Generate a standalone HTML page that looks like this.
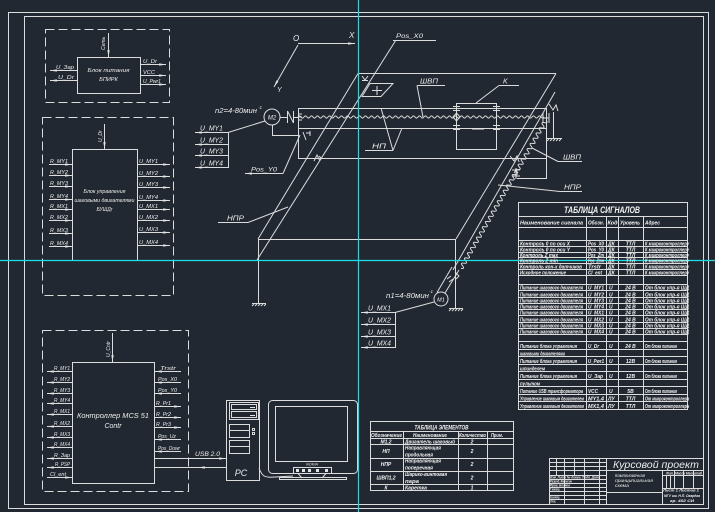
<!DOCTYPE html>
<html><head><meta charset="utf-8"><style>
html,body{margin:0;padding:0;background:#222831;}
svg{display:block}
text{font-family:"Liberation Sans","DejaVu Sans",sans-serif;font-style:italic;fill:#ececec;}
.tb text{font-weight:bold;fill:#f2f2f2;}
</style></head><body>
<svg width="715" height="512" viewBox="0 0 715 512" xmlns="http://www.w3.org/2000/svg">
<defs>
<marker id="a" viewBox="0 0 10 4" refX="10" refY="2" markerWidth="7" markerHeight="2.4" preserveAspectRatio="none" markerUnits="userSpaceOnUse" orient="auto"><path d="M0,0L10,2L0,4z" fill="#e4e4e4"/></marker>
</defs>
<rect width="715" height="512" fill="#222831"/>
<g fill="none" stroke="#dcdcdc" stroke-width="1">
<rect x="8.5" y="12.5" width="700" height="496"/>
<rect x="24.5" y="16.5" width="679" height="488"/>

<rect x="45.5" y="29.5" width="124" height="73" stroke-dasharray="9 4"/>
<rect x="77.5" y="57.5" width="63" height="36"/>
<path d="M108.5,33V57" marker-end="url(#a)"/>
<path d="M77,70.5H50" marker-end="url(#a)"/>
<path d="M77,80.5H50" marker-end="url(#a)"/>
<path d="M140,64.5H166" marker-end="url(#a)"/>
<path d="M140,75.5H166" marker-end="url(#a)"/>
<path d="M140,84.5H166" marker-end="url(#a)"/>

<rect x="42.5" y="117.5" width="131" height="178" stroke-dasharray="9 4"/>
<rect x="72.5" y="149.5" width="65" height="111"/>
<path d="M104.5,124V149" marker-end="url(#a)"/>
<path d="M49,164.5H72" marker-end="url(#a)"/>
<path d="M49,175.5H72" marker-end="url(#a)"/>
<path d="M49,186.5H72" marker-end="url(#a)"/>
<path d="M49,199.5H72" marker-end="url(#a)"/>
<path d="M49,209.5H72" marker-end="url(#a)"/>
<path d="M49,220.5H72" marker-end="url(#a)"/>
<path d="M49,233.5H72" marker-end="url(#a)"/>
<path d="M49,246.5H72" marker-end="url(#a)"/>
<path d="M137,164.5H170" marker-end="url(#a)"/>
<path d="M137,176.5H170" marker-end="url(#a)"/>
<path d="M137,187.5H170" marker-end="url(#a)"/>
<path d="M137,200.5H170" marker-end="url(#a)"/>
<path d="M137,209.5H170" marker-end="url(#a)"/>
<path d="M137,220.5H170" marker-end="url(#a)"/>
<path d="M137,232.5H170" marker-end="url(#a)"/>
<path d="M137,245.5H170" marker-end="url(#a)"/>

<rect x="42.5" y="330.5" width="146" height="161" stroke-dasharray="9 4"/>
<rect x="72.5" y="362.5" width="82" height="121"/>
<path d="M112.5,333V362" marker-end="url(#a)"/>
<path d="M72,371.5H47" marker-end="url(#a)"/>
<path d="M72,382.5H47" marker-end="url(#a)"/>
<path d="M72,393.5H47" marker-end="url(#a)"/>
<path d="M72,403.5H47" marker-end="url(#a)"/>
<path d="M72,414.5H47" marker-end="url(#a)"/>
<path d="M72,426.5H47" marker-end="url(#a)"/>
<path d="M72,437.5H47" marker-end="url(#a)"/>
<path d="M72,447.5H47" marker-end="url(#a)"/>
<path d="M72,458.5H47" marker-end="url(#a)"/>
<path d="M72,467.5H47" marker-end="url(#a)"/>
<path d="M47,477.5H72" marker-end="url(#a)"/>
<path d="M181,371.5H155" marker-end="url(#a)"/>
<path d="M181,382.5H155" marker-end="url(#a)"/>
<path d="M181,393.5H155" marker-end="url(#a)"/>
<path d="M154,406.5H181" marker-end="url(#a)"/>
<path d="M154,417.5H181" marker-end="url(#a)"/>
<path d="M154,427.5H181" marker-end="url(#a)"/>
<path d="M181,439.5H155" marker-end="url(#a)"/>
<path d="M181,451.5H155" marker-end="url(#a)"/>
<path d="M154,458.5H226" marker-end="url(#a)"/>
<path d="M154,467.5H227"/>
<path d="M206,467.5H198" marker-end="url(#a)"/>

<rect x="226.5" y="400.5" width="33" height="80"/>
<rect x="229.5" y="402.5" width="29" height="17"/>
<rect x="231.5" y="404.5" width="25" height="5"/>
<rect x="231.5" y="411.5" width="25" height="6"/>
<rect x="229.5" y="424.5" width="20" height="13"/>
<path d="M229,430.5H249"/>
<rect x="229.5" y="440.5" width="20" height="13"/>
<path d="M229,446.5H249"/>
<rect x="252.5" y="428.5" width="2" height="2"/>
<rect x="252.5" y="432.5" width="2" height="2"/>
<rect x="268.5" y="400.5" width="89" height="73" rx="4"/>
<rect x="275.5" y="406.5" width="72" height="55"/>
<rect x="293.5" y="467.5" width="38" height="6"/>
<path d="M298,473.5L302,478M326,473.5L322,478"/>
<rect x="279.5" y="477.5" width="67" height="2"/>
<path d="M259,468C262,476 264,478 275,477L293,476"/>

<rect x="370.5" y="421.5" width="143" height="69"/>
<path d="M370,431.5H513M370,438.5H513M370,444.5H513M370,458.5H513M370,471.5H513M370,484.5H513"/>
<path d="M403.5,431V490M458.5,431V490M487.5,431V490"/>

<rect x="518.5" y="202.5" width="169" height="207"/>
<path d="M518,216.5H687M518,227.5H687M518,240.5H687M518,246.5H687M518,252.5H687M518,257.5H687M518,263.5H687M518,269.5H687M518,275.5H687M518,284.5H687M518,290.5H687M518,297.5H687M518,303.5H687M518,309.5H687M518,315.5H687M518,322.5H687M518,328.5H687M518,334.5H687M518,341.5H687M518,349.5H687M518,356.5H687M518,364.5H687M518,371.5H687M518,379.5H687M518,386.5H687M518,394.5H687M518,401.5H687"/>
<path d="M586.5,216V409M606.5,216V409M618.5,216V409M643.5,216V409"/>

<path d="M549.5,458.5H704M549.5,458V504M556.5,458V475M564.5,458V504M574.5,458V475M584.5,458V504M599.5,458V504M606.5,458V504"/>
<path d="M549,462.5H606M549,466.5H606M549,470.5H606M549,475.5H606M549,479.5H606M549,483.5H606M549,487.5H606M549,491.5H606M549,495.5H606M549,499.5H606"/>
<path d="M606,470.5H704M662.5,470V504M662,475.5H704M662,488.5H704M606,492.5H662M666.5,475V488M670.5,475V488M674.5,470V488M683.5,470V488M693.5,470V488"/>

<path d="M298,43.5H355" marker-end="url(#a)"/>
<path d="M298,45L274,87" marker-end="url(#a)"/>

<path d="M358,73.5H556"/>
<path d="M358,73.5L258,239"/>
<path d="M556,73.5L456,239"/>
<path d="M396,40L257,260"/>
<path d="M555,92L453,270"/>
<path d="M258,239.5H455.5"/>
<path d="M258.5,239V303M455.5,239V308"/>
<path d="M252,303.5H266M254,304L252,306M257,304L255,306M260,304L258,306M263,304L261,306M266,304L264,306"/>
<path d="M449,308.5H463M451,309L449,311M454,309L452,311M457,309L455,311M460,309L458,311M463,309L461,311"/>
<path d="M370,83.5H393L381,96.5H362Z"/>
<path d="M372,90.5H382M377,86V95"/>
<path d="M362,80.5H368M362,76L365,80L368,76"/>
<path d="M298.5,108V159M298,108.5H547M298,128.5H547M298,158.5H547M546.5,108V178M517,178.5H547"/>
<path d="M298,117 q1.5,-2.2 3,0 t3,0 t3,0 t3,0 t3,0 t3,0 t3,0 t3,0 t3,0 t3,0 t3,0 t3,0 t3,0 t3,0 t3,0 t3,0 t3,0 t3,0 t3,0 t3,0 t3,0 t3,0 t3,0 t3,0 t3,0 t3,0 t3,0 t3,0 t3,0 t3,0 t3,0 t3,0 t3,0 t3,0 t3,0 t3,0 t3,0 t3,0 t3,0 t3,0 t3,0 t3,0 t3,0 t3,0 t3,0 t3,0 t3,0 t3,0 t3,0 t3,0 t3,0 t3,0 t3,0 t3,0 t3,0 t3,0 t3,0 t3,0 t3,0 t3,0 t3,0 t3,0 t3,0 t3,0 t3,0 t3,0 t3,0 t3,0 t3,0 t3,0 t3,0 t3,0 t3,0 t3,0 t3,0 t3,0 t3,0 t3,0 t3,0 t3,0 t3,0 t3,0"/>
<path d="M456.5,103V149M496.5,103V149M456,103.5H497M456,149.5H497"/>
<path d="M453,106.5H460M453,110.5H460M493,106.5H500M493,110.5H500M453,125.5H460M453,129.5H460M493,125.5H500M493,129.5H500"/>
<path d="M453,117L456.5,113L460,117L456.5,121Z"/>
<path d="M543,113V123M549,113V123M543,118H549"/>
<path transform="translate(546,120) rotate(119.8)" d="M0,0 q1.5,-4 3,0 t3,0 t3,0 t3,0 t3,0 t3,0 t3,0 t3,0 t3,0 t3,0 t3,0 t3,0 t3,0 t3,0 t3,0 t3,0 t3,0 t3,0 t3,0 t3,0 t3,0 t3,0 t3,0 t3,0 t3,0 t3,0 t3,0 t3,0 t3,0 t3,0 t3,0 t3,0 t3,0 t3,0 t3,0 t3,0 t3,0 t3,0 t3,0 t3,0 t3,0 t3,0 t3,0 t3,0 t3,0 t3,0 t3,0 t3,0 t3,0 t3,0 t3,0 t3,0 t3,0 t3,0 t3,0 t3,0 t3,0"/>
<path d="M553.5,112V138M547,138.5H562M549,139L547,141M552,139L550,141M555,139L553,141M558,139L556,141M561,139L559,141"/>
<path d="M549,104L553,110L556,105L558,111"/>
<path d="M510,156L514,161L517,156L519,162M512,170H520M512,176H520M516,168V179M514,173L516,170L518,173"/>
<circle cx="272" cy="117" r="8"/>
<path d="M280,117.5H287M287.5,111V123M287.5,111L293.5,123M293.5,111V123M293,117.5H298M299,114H302M299,117H302M299,120H302"/>
<path d="M265,121L228,132.5"/>
<path d="M228,132.5H195" marker-end="url(#a)"/>
<path d="M228,144.5H195" marker-end="url(#a)"/>
<path d="M228,155.5H195" marker-end="url(#a)"/>
<path d="M228,167.5H195" marker-end="url(#a)"/>
<path d="M228.5,132V168"/>
<path d="M272.5,125V135.5H298"/>
<path d="M303,132L306,140M306,133H310M310,131V136"/>
<path d="M283,173.5H245" marker-end="url(#a)"/>
<path d="M283,173.5L300,135"/>
<path d="M314,161L317,155L320,161M319,156L322,159"/>
<path d="M393,40.5H436"/>
<path d="M417,85.5H445M417,85.5L423,117"/>
<path d="M499,85.5H519M499,85.5L476,103"/>
<path d="M365,150.5H393M393,150.5L381,108M393,150.5L402,128"/>
<path d="M218,222.5H248L288,207"/>
<path d="M558,161.5H582M558,161.5L532,148"/>
<path d="M560,191.5H582M560,191.5L498,185"/>
<circle cx="441" cy="299" r="7"/>
<path d="M437,292.5L452,267M445,293L459,270M447,279L451,276M449,282L453,279M455,272L459,276L456,279"/>
<path d="M434,302L395,312.5"/>
<path d="M395,312.5H361" marker-end="url(#a)"/>
<path d="M395,324.5H361" marker-end="url(#a)"/>
<path d="M395,336.5H361" marker-end="url(#a)"/>
<path d="M395,347.5H361" marker-end="url(#a)"/>
<path d="M395.5,312V348"/>
</g>

<path d="M358.5,0V512M0,260.5H715" stroke="#19e0e6" stroke-width="1.2" fill="none"/>

<g fill="#e4e4e4">
<rect x="296" y="469" width="3" height="3"/><rect x="302" y="469" width="3" height="3"/><rect x="308" y="469" width="3" height="3"/><rect x="316" y="469" width="3" height="3"/><rect x="325" y="469" width="3" height="3"/>
<rect x="250" y="407" width="5" height="1"/><rect x="250" y="415" width="5" height="1"/>
<rect x="472" y="128" width="12" height="1.5"/>
</g>

<g>
<text x="105" y="50" font-size="5" transform="rotate(-90 105 50)">Сеть</text>
<text x="56" y="69" font-size="5" textLength="18" lengthAdjust="spacingAndGlyphs">U_Зар</text>
<text x="58" y="79" font-size="5" textLength="16" lengthAdjust="spacingAndGlyphs">U_Dr</text>
<text x="143" y="63" font-size="5" textLength="14" lengthAdjust="spacingAndGlyphs">U_Dr</text>
<text x="143" y="74" font-size="5" textLength="12" lengthAdjust="spacingAndGlyphs">VCC</text>
<text x="143" y="83" font-size="5" textLength="18" lengthAdjust="spacingAndGlyphs">U_Pwr1</text>
<text x="108.5" y="72" font-size="5.5" text-anchor="middle" textLength="42" lengthAdjust="spacingAndGlyphs">Блок питания</text>
<text x="108.5" y="81" font-size="5.5" text-anchor="middle">БПИРК</text>

<text x="102" y="142" font-size="5" transform="rotate(-90 102 142)">U_Dr</text>
<text x="50" y="163" font-size="5" textLength="18" lengthAdjust="spacingAndGlyphs">R_MY1</text>
<text x="50" y="174" font-size="5" textLength="18" lengthAdjust="spacingAndGlyphs">R_MY2</text>
<text x="50" y="185" font-size="5" textLength="18" lengthAdjust="spacingAndGlyphs">R_MY3</text>
<text x="50" y="198" font-size="5" textLength="18" lengthAdjust="spacingAndGlyphs">R_MY4</text>
<text x="50" y="208" font-size="5" textLength="18" lengthAdjust="spacingAndGlyphs">R_MX1</text>
<text x="50" y="219" font-size="5" textLength="18" lengthAdjust="spacingAndGlyphs">R_MX2</text>
<text x="50" y="232" font-size="5" textLength="18" lengthAdjust="spacingAndGlyphs">R_MX3</text>
<text x="50" y="245" font-size="5" textLength="18" lengthAdjust="spacingAndGlyphs">R_MX4</text>
<text x="139" y="163" font-size="5" textLength="19" lengthAdjust="spacingAndGlyphs">U_MY1</text>
<text x="139" y="175" font-size="5" textLength="19" lengthAdjust="spacingAndGlyphs">U_MY2</text>
<text x="139" y="186" font-size="5" textLength="19" lengthAdjust="spacingAndGlyphs">U_MY3</text>
<text x="139" y="199" font-size="5" textLength="19" lengthAdjust="spacingAndGlyphs">U_MY4</text>
<text x="139" y="208" font-size="5" textLength="19" lengthAdjust="spacingAndGlyphs">U_MX1</text>
<text x="139" y="219" font-size="5" textLength="19" lengthAdjust="spacingAndGlyphs">U_MX2</text>
<text x="139" y="231" font-size="5" textLength="19" lengthAdjust="spacingAndGlyphs">U_MX3</text>
<text x="139" y="244" font-size="5" textLength="19" lengthAdjust="spacingAndGlyphs">U_MX4</text>
<text x="104.5" y="193" font-size="5" text-anchor="middle" textLength="42" lengthAdjust="spacingAndGlyphs">Блок управления</text>
<text x="104.5" y="202" font-size="5" text-anchor="middle" textLength="60" lengthAdjust="spacingAndGlyphs">шаговыми двигателями</text>
<text x="104.5" y="211" font-size="5" text-anchor="middle">БУШДr</text>

<text x="110" y="357" font-size="5" transform="rotate(-90 110 357)">U_Cntr</text>
<text x="70" y="370" font-size="5" text-anchor="end" textLength="16" lengthAdjust="spacingAndGlyphs">R_MY1</text>
<text x="70" y="381" font-size="5" text-anchor="end" textLength="16" lengthAdjust="spacingAndGlyphs">R_MY2</text>
<text x="70" y="392" font-size="5" text-anchor="end" textLength="16" lengthAdjust="spacingAndGlyphs">R_MY3</text>
<text x="70" y="402" font-size="5" text-anchor="end" textLength="16" lengthAdjust="spacingAndGlyphs">R_MY4</text>
<text x="70" y="413" font-size="5" text-anchor="end" textLength="16" lengthAdjust="spacingAndGlyphs">R_MX1</text>
<text x="70" y="425" font-size="5" text-anchor="end" textLength="16" lengthAdjust="spacingAndGlyphs">R_MX2</text>
<text x="70" y="436" font-size="5" text-anchor="end" textLength="16" lengthAdjust="spacingAndGlyphs">R_MX3</text>
<text x="70" y="446" font-size="5" text-anchor="end" textLength="16" lengthAdjust="spacingAndGlyphs">R_MX4</text>
<text x="70" y="457" font-size="5" text-anchor="end" textLength="16" lengthAdjust="spacingAndGlyphs">R_Зар</text>
<text x="70" y="466" font-size="5" text-anchor="end" textLength="15" lengthAdjust="spacingAndGlyphs">R_PSP</text>
<text x="66" y="476" font-size="5" text-anchor="end" textLength="16" lengthAdjust="spacingAndGlyphs">Cl_ent</text>
<text x="160" y="370" font-size="5" textLength="16" lengthAdjust="spacingAndGlyphs">Trstr</text>
<text x="158" y="381" font-size="5" textLength="19" lengthAdjust="spacingAndGlyphs">Pos_X0</text>
<text x="158" y="392" font-size="5" textLength="19" lengthAdjust="spacingAndGlyphs">Pos_Y0</text>
<text x="156" y="405" font-size="5" textLength="15" lengthAdjust="spacingAndGlyphs">R_Pr1</text>
<text x="156" y="416" font-size="5" textLength="15" lengthAdjust="spacingAndGlyphs">R_Pr2</text>
<text x="156" y="426" font-size="5" textLength="15" lengthAdjust="spacingAndGlyphs">R_Pr3</text>
<text x="158" y="438" font-size="5" textLength="18" lengthAdjust="spacingAndGlyphs">Pos_Uz</text>
<text x="158" y="450" font-size="5" textLength="22" lengthAdjust="spacingAndGlyphs">Pos_Dowr</text>
<text x="195" y="456" font-size="6" textLength="25" lengthAdjust="spacingAndGlyphs">USB 2.0</text>
<text x="113" y="418" font-size="7" text-anchor="middle" textLength="72" lengthAdjust="spacingAndGlyphs">Контроллер MCS 51</text>
<text x="113" y="428" font-size="7" text-anchor="middle">Contr</text>

<text x="241" y="476" font-size="9" text-anchor="middle">PC</text>
<text x="312" y="465.5" font-size="4" text-anchor="middle" textLength="12" lengthAdjust="spacingAndGlyphs">NOKIA</text>

<text x="293" y="41" font-size="8">O</text>
<text x="349" y="38" font-size="8">X</text>
<text x="277" y="92" font-size="7">Y</text>
<text x="396" y="38" font-size="6.5" textLength="27" lengthAdjust="spacingAndGlyphs">Pos_X0</text>
<text x="215" y="113" font-size="7" textLength="42" lengthAdjust="spacingAndGlyphs">n2=4-80мин</text>
<text x="258" y="109" font-size="4.5">-1</text>
<text x="272" y="119.5" font-size="6" text-anchor="middle">M2</text>
<text x="200" y="130.5" font-size="7" textLength="23" lengthAdjust="spacingAndGlyphs">U_MY1</text>
<text x="200" y="142.5" font-size="7" textLength="23" lengthAdjust="spacingAndGlyphs">U_MY2</text>
<text x="200" y="153.5" font-size="7" textLength="23" lengthAdjust="spacingAndGlyphs">U_MY3</text>
<text x="200" y="165.5" font-size="7" textLength="23" lengthAdjust="spacingAndGlyphs">U_MY4</text>
<text x="251" y="171.5" font-size="6.5" textLength="26" lengthAdjust="spacingAndGlyphs">Pos_Y0</text>
<text x="227" y="220.5" font-size="7" textLength="17" lengthAdjust="spacingAndGlyphs">НПР</text>
<text x="372" y="148.5" font-size="7" textLength="14" lengthAdjust="spacingAndGlyphs">НП</text>
<text x="420" y="83.5" font-size="7" textLength="18" lengthAdjust="spacingAndGlyphs">ШВП</text>
<text x="503" y="83.5" font-size="7">K</text>
<text x="563" y="159.5" font-size="7" textLength="18" lengthAdjust="spacingAndGlyphs">ШВП</text>
<text x="564" y="189.5" font-size="7" textLength="17" lengthAdjust="spacingAndGlyphs">НПР</text>
<text x="386" y="298" font-size="7" textLength="43" lengthAdjust="spacingAndGlyphs">n1=4-80мин</text>
<text x="429" y="293" font-size="4.5">-1</text>
<text x="441" y="301.5" font-size="5.5" text-anchor="middle">M1</text>
<text x="368" y="310.5" font-size="7" textLength="23" lengthAdjust="spacingAndGlyphs">U_MX1</text>
<text x="368" y="322.5" font-size="7" textLength="23" lengthAdjust="spacingAndGlyphs">U_MX2</text>
<text x="368" y="334.5" font-size="7" textLength="23" lengthAdjust="spacingAndGlyphs">U_MX3</text>
<text x="368" y="345.5" font-size="7" textLength="23" lengthAdjust="spacingAndGlyphs">U_MX4</text>

<g class="tb">
<text x="441.5" y="429.5" font-size="6" text-anchor="middle" textLength="54" lengthAdjust="spacingAndGlyphs">ТАБЛИЦА ЭЛЕМЕНТОВ</text>
<g font-size="5">
<text x="371" y="437" textLength="31" lengthAdjust="spacingAndGlyphs">Обозначение</text>
<text x="430" y="437" text-anchor="middle" textLength="34" lengthAdjust="spacingAndGlyphs">Наименование</text>
<text x="459" y="437" textLength="27" lengthAdjust="spacingAndGlyphs">Количество</text>
<text x="491" y="437" textLength="12" lengthAdjust="spacingAndGlyphs">Прим.</text>
<text x="386" y="443.5" text-anchor="middle">M1,2</text>
<text x="405" y="443.5" textLength="50" lengthAdjust="spacingAndGlyphs">Двигатель шаговый</text>
<text x="472" y="443.5" text-anchor="middle">2</text>
<text x="386" y="453" text-anchor="middle">НП</text>
<text x="405" y="449.5" textLength="36" lengthAdjust="spacingAndGlyphs">Направляющая</text>
<text x="405" y="456.5" textLength="28" lengthAdjust="spacingAndGlyphs">продольная</text>
<text x="472" y="453" text-anchor="middle">2</text>
<text x="386" y="466" text-anchor="middle">НПР</text>
<text x="405" y="462.5" textLength="36" lengthAdjust="spacingAndGlyphs">Направляющая</text>
<text x="405" y="469.5" textLength="28" lengthAdjust="spacingAndGlyphs">поперечная</text>
<text x="472" y="466" text-anchor="middle">2</text>
<text x="386" y="479.5" text-anchor="middle">ШВП1,2</text>
<text x="405" y="476" textLength="42" lengthAdjust="spacingAndGlyphs">Шарико-винтовая</text>
<text x="405" y="483" textLength="14" lengthAdjust="spacingAndGlyphs">пара</text>
<text x="472" y="479.5" text-anchor="middle">2</text>
<text x="386" y="489.5" text-anchor="middle">К</text>
<text x="405" y="489.5" textLength="22" lengthAdjust="spacingAndGlyphs">Каретка</text>
<text x="472" y="489.5" text-anchor="middle">1</text>
</g>

<text x="602" y="213" font-size="9" text-anchor="middle" textLength="76" lengthAdjust="spacingAndGlyphs">ТАБЛИЦА СИГНАЛОВ</text>
<g font-size="5">
<text x="520" y="224.5" textLength="63" lengthAdjust="spacingAndGlyphs">Наименование сигнала</text>
<text x="588" y="224.5" textLength="16" lengthAdjust="spacingAndGlyphs">Обозн.</text>
<text x="607.5" y="224.5" textLength="10" lengthAdjust="spacingAndGlyphs">Код</text>
<text x="620" y="224.5" textLength="20" lengthAdjust="spacingAndGlyphs">Уровень</text>
<text x="645" y="224.5" textLength="15" lengthAdjust="spacingAndGlyphs">Адрес</text>

<text x="520" y="245.5" textLength="50" lengthAdjust="spacingAndGlyphs">Контроль 0 по оси X</text>
<text x="520" y="251.5" textLength="50" lengthAdjust="spacingAndGlyphs">Контроль 0 по оси Y</text>
<text x="520" y="257" textLength="38" lengthAdjust="spacingAndGlyphs">Контроль Z max</text>
<text x="520" y="262.5" textLength="38" lengthAdjust="spacingAndGlyphs">Контроль Z min</text>
<text x="520" y="268.5" textLength="62" lengthAdjust="spacingAndGlyphs">Контроль кон-х датчиков</text>
<text x="520" y="274.5" textLength="46" lengthAdjust="spacingAndGlyphs">Исходное положение</text>
<text x="588" y="245.5" textLength="16" lengthAdjust="spacingAndGlyphs">Pos_X0</text>
<text x="588" y="251.5" textLength="16" lengthAdjust="spacingAndGlyphs">Pos_Y0</text>
<text x="588" y="257" textLength="16" lengthAdjust="spacingAndGlyphs">Pos_Zm</text>
<text x="588" y="262.5" textLength="16" lengthAdjust="spacingAndGlyphs">Pos_Zmn</text>
<text x="588" y="268.5" textLength="13" lengthAdjust="spacingAndGlyphs">Trstr</text>
<text x="588" y="274.5" textLength="14" lengthAdjust="spacingAndGlyphs">Cl_ent</text>
<text x="608" y="245.5">ДК</text><text x="608" y="251.5">ДК</text><text x="608" y="257">ДК</text><text x="608" y="262.5">ДК</text><text x="608" y="268.5">ДК</text><text x="608" y="274.5">ДК</text>
<text x="630.5" y="245.5" text-anchor="middle">ТТЛ</text><text x="630.5" y="251.5" text-anchor="middle">ТТЛ</text><text x="630.5" y="257" text-anchor="middle">ТТЛ</text><text x="630.5" y="262.5" text-anchor="middle">ТТЛ</text><text x="630.5" y="268.5" text-anchor="middle">ТТЛ</text><text x="630.5" y="274.5" text-anchor="middle">ТТЛ</text>
<text x="645" y="245.5" textLength="44" lengthAdjust="spacingAndGlyphs">К микроконтроллеру</text>
<text x="645" y="251.5" textLength="44" lengthAdjust="spacingAndGlyphs">К микроконтроллеру</text>
<text x="645" y="257" textLength="44" lengthAdjust="spacingAndGlyphs">К микроконтроллеру</text>
<text x="645" y="262.5" textLength="44" lengthAdjust="spacingAndGlyphs">К микроконтроллеру</text>
<text x="645" y="268.5" textLength="44" lengthAdjust="spacingAndGlyphs">К микроконтроллеру</text>
<text x="645" y="274.5" textLength="44" lengthAdjust="spacingAndGlyphs">К микроконтроллеру</text>

<text x="520" y="289.5" textLength="63" lengthAdjust="spacingAndGlyphs">Питание шагового двигателя</text>
<text x="520" y="296.5" textLength="63" lengthAdjust="spacingAndGlyphs">Питание шагового двигателя</text>
<text x="520" y="302.5" textLength="63" lengthAdjust="spacingAndGlyphs">Питание шагового двигателя</text>
<text x="520" y="308.5" textLength="63" lengthAdjust="spacingAndGlyphs">Питание шагового двигателя</text>
<text x="520" y="314.5" textLength="63" lengthAdjust="spacingAndGlyphs">Питание шагового двигателя</text>
<text x="520" y="321.5" textLength="63" lengthAdjust="spacingAndGlyphs">Питание шагового двигателя</text>
<text x="520" y="327.5" textLength="63" lengthAdjust="spacingAndGlyphs">Питание шагового двигателя</text>
<text x="520" y="333.5" textLength="63" lengthAdjust="spacingAndGlyphs">Питание шагового двигателя</text>
<text x="588" y="289.5" textLength="16" lengthAdjust="spacingAndGlyphs">U_MY1</text>
<text x="588" y="296.5" textLength="16" lengthAdjust="spacingAndGlyphs">U_MY2</text>
<text x="588" y="302.5" textLength="16" lengthAdjust="spacingAndGlyphs">U_MY3</text>
<text x="588" y="308.5" textLength="16" lengthAdjust="spacingAndGlyphs">U_MY4</text>
<text x="588" y="314.5" textLength="16" lengthAdjust="spacingAndGlyphs">U_MX1</text>
<text x="588" y="321.5" textLength="16" lengthAdjust="spacingAndGlyphs">U_MX2</text>
<text x="588" y="327.5" textLength="16" lengthAdjust="spacingAndGlyphs">U_MX3</text>
<text x="588" y="333.5" textLength="16" lengthAdjust="spacingAndGlyphs">U_MX4</text>
<text x="609" y="289.5">U</text><text x="609" y="296.5">U</text><text x="609" y="302.5">U</text><text x="609" y="308.5">U</text><text x="609" y="314.5">U</text><text x="609" y="321.5">U</text><text x="609" y="327.5">U</text><text x="609" y="333.5">U</text>
<text x="630.5" y="289.5" text-anchor="middle">24 В</text><text x="630.5" y="296.5" text-anchor="middle">24 В</text><text x="630.5" y="302.5" text-anchor="middle">24 В</text><text x="630.5" y="308.5" text-anchor="middle">24 В</text><text x="630.5" y="314.5" text-anchor="middle">24 В</text><text x="630.5" y="321.5" text-anchor="middle">24 В</text><text x="630.5" y="327.5" text-anchor="middle">24 В</text><text x="630.5" y="333.5" text-anchor="middle">24 В</text>
<text x="645" y="289.5" textLength="44" lengthAdjust="spacingAndGlyphs">От блок упр-я ШД</text>
<text x="645" y="296.5" textLength="44" lengthAdjust="spacingAndGlyphs">От блок упр-я ШД</text>
<text x="645" y="302.5" textLength="44" lengthAdjust="spacingAndGlyphs">От блок упр-я ШД</text>
<text x="645" y="308.5" textLength="44" lengthAdjust="spacingAndGlyphs">От блок упр-я ШД</text>
<text x="645" y="314.5" textLength="44" lengthAdjust="spacingAndGlyphs">От блок упр-я ШД</text>
<text x="645" y="321.5" textLength="44" lengthAdjust="spacingAndGlyphs">От блок упр-я ШД</text>
<text x="645" y="327.5" textLength="44" lengthAdjust="spacingAndGlyphs">От блок упр-я ШД</text>
<text x="645" y="333.5" textLength="44" lengthAdjust="spacingAndGlyphs">От блок упр-я ШД</text>

<text x="520" y="348" textLength="57" lengthAdjust="spacingAndGlyphs">Питание блока управления</text>
<text x="520" y="355.5" textLength="45" lengthAdjust="spacingAndGlyphs">шаговыми двигателями</text>
<text x="520" y="363" textLength="57" lengthAdjust="spacingAndGlyphs">Питание блока управления</text>
<text x="520" y="370.5" textLength="25" lengthAdjust="spacingAndGlyphs">шпинделем</text>
<text x="520" y="378" textLength="57" lengthAdjust="spacingAndGlyphs">Питание блока управления</text>
<text x="520" y="385.5" textLength="20" lengthAdjust="spacingAndGlyphs">пультом</text>
<text x="520" y="393" textLength="63" lengthAdjust="spacingAndGlyphs">Питание USB трансформатора</text>
<text x="520" y="400.5" textLength="64" lengthAdjust="spacingAndGlyphs">Управление шаговым двигателем</text>
<text x="520" y="408" textLength="64" lengthAdjust="spacingAndGlyphs">Управление шаговым двигателем</text>
<text x="588" y="348" textLength="11" lengthAdjust="spacingAndGlyphs">U_Dr</text>
<text x="588" y="363" textLength="16" lengthAdjust="spacingAndGlyphs">U_Pwr1</text>
<text x="588" y="378" textLength="15" lengthAdjust="spacingAndGlyphs">U_Зар</text>
<text x="588" y="393" textLength="10" lengthAdjust="spacingAndGlyphs">VCC</text>
<text x="588" y="400.5" textLength="16" lengthAdjust="spacingAndGlyphs">MY1,4</text>
<text x="588" y="408" textLength="16" lengthAdjust="spacingAndGlyphs">MX1,4</text>
<text x="609" y="348">U</text><text x="609" y="363">U</text><text x="609" y="378">U</text><text x="609" y="393">U</text><text x="608" y="400.5">ЛУ</text><text x="608" y="408">ЛУ</text>
<text x="630.5" y="348" text-anchor="middle">24 В</text><text x="630.5" y="363" text-anchor="middle">12В</text><text x="630.5" y="378" text-anchor="middle">12В</text><text x="630.5" y="393" text-anchor="middle">5В</text><text x="630.5" y="400.5" text-anchor="middle">ТТЛ</text><text x="630.5" y="408" text-anchor="middle">ТТЛ</text>
<text x="645" y="348" textLength="32" lengthAdjust="spacingAndGlyphs">От блока питания</text>
<text x="645" y="363" textLength="32" lengthAdjust="spacingAndGlyphs">От блока питания</text>
<text x="645" y="378" textLength="32" lengthAdjust="spacingAndGlyphs">От блока питания</text>
<text x="645" y="393" textLength="32" lengthAdjust="spacingAndGlyphs">От блока питания</text>
<text x="645" y="400.5" textLength="44" lengthAdjust="spacingAndGlyphs">От микроконтроллера</text>
<text x="645" y="408" textLength="44" lengthAdjust="spacingAndGlyphs">От микроконтроллера</text>
</g>

<g font-size="3.5">
<text x="550" y="478.5" textLength="50" lengthAdjust="spacingAndGlyphs">Изм. Лист № докум. Подп. Дата</text>
<text x="550" y="482.5" textLength="22" lengthAdjust="spacingAndGlyphs">Разраб. Кмоисин</text>
<text x="550" y="486.5" textLength="20" lengthAdjust="spacingAndGlyphs">Пров. Беляев</text>
<text x="550" y="490.5" textLength="10" lengthAdjust="spacingAndGlyphs">Т.контр.</text>
<text x="550" y="498.5" textLength="10" lengthAdjust="spacingAndGlyphs">Н.контр.</text>
<text x="550" y="502.5" textLength="6" lengthAdjust="spacingAndGlyphs">Утв.</text>
<text x="666" y="474.5" textLength="36" lengthAdjust="spacingAndGlyphs">Лит. Масса Масштаб</text>
<text x="663" y="491.5" textLength="36" lengthAdjust="spacingAndGlyphs">Лист 1  Листов 1</text>
<text x="664" y="497" textLength="36" lengthAdjust="spacingAndGlyphs">МГУ им. Н.П. Огарёва</text>
<text x="670" y="502" textLength="24" lengthAdjust="spacingAndGlyphs">гр. 402 СИ</text>
</g>
</g>
<text x="613" y="468" font-size="10.5" textLength="86" lengthAdjust="spacingAndGlyphs">Курсовой проект</text>
<text x="615" y="477" font-size="4.5" textLength="30" lengthAdjust="spacingAndGlyphs">Компоновочная</text>
<text x="615" y="482" font-size="4.5" textLength="38" lengthAdjust="spacingAndGlyphs">принципиальная</text>
<text x="615" y="487" font-size="4.5" textLength="14" lengthAdjust="spacingAndGlyphs">схема</text>
</g>
</svg>
</body></html>
